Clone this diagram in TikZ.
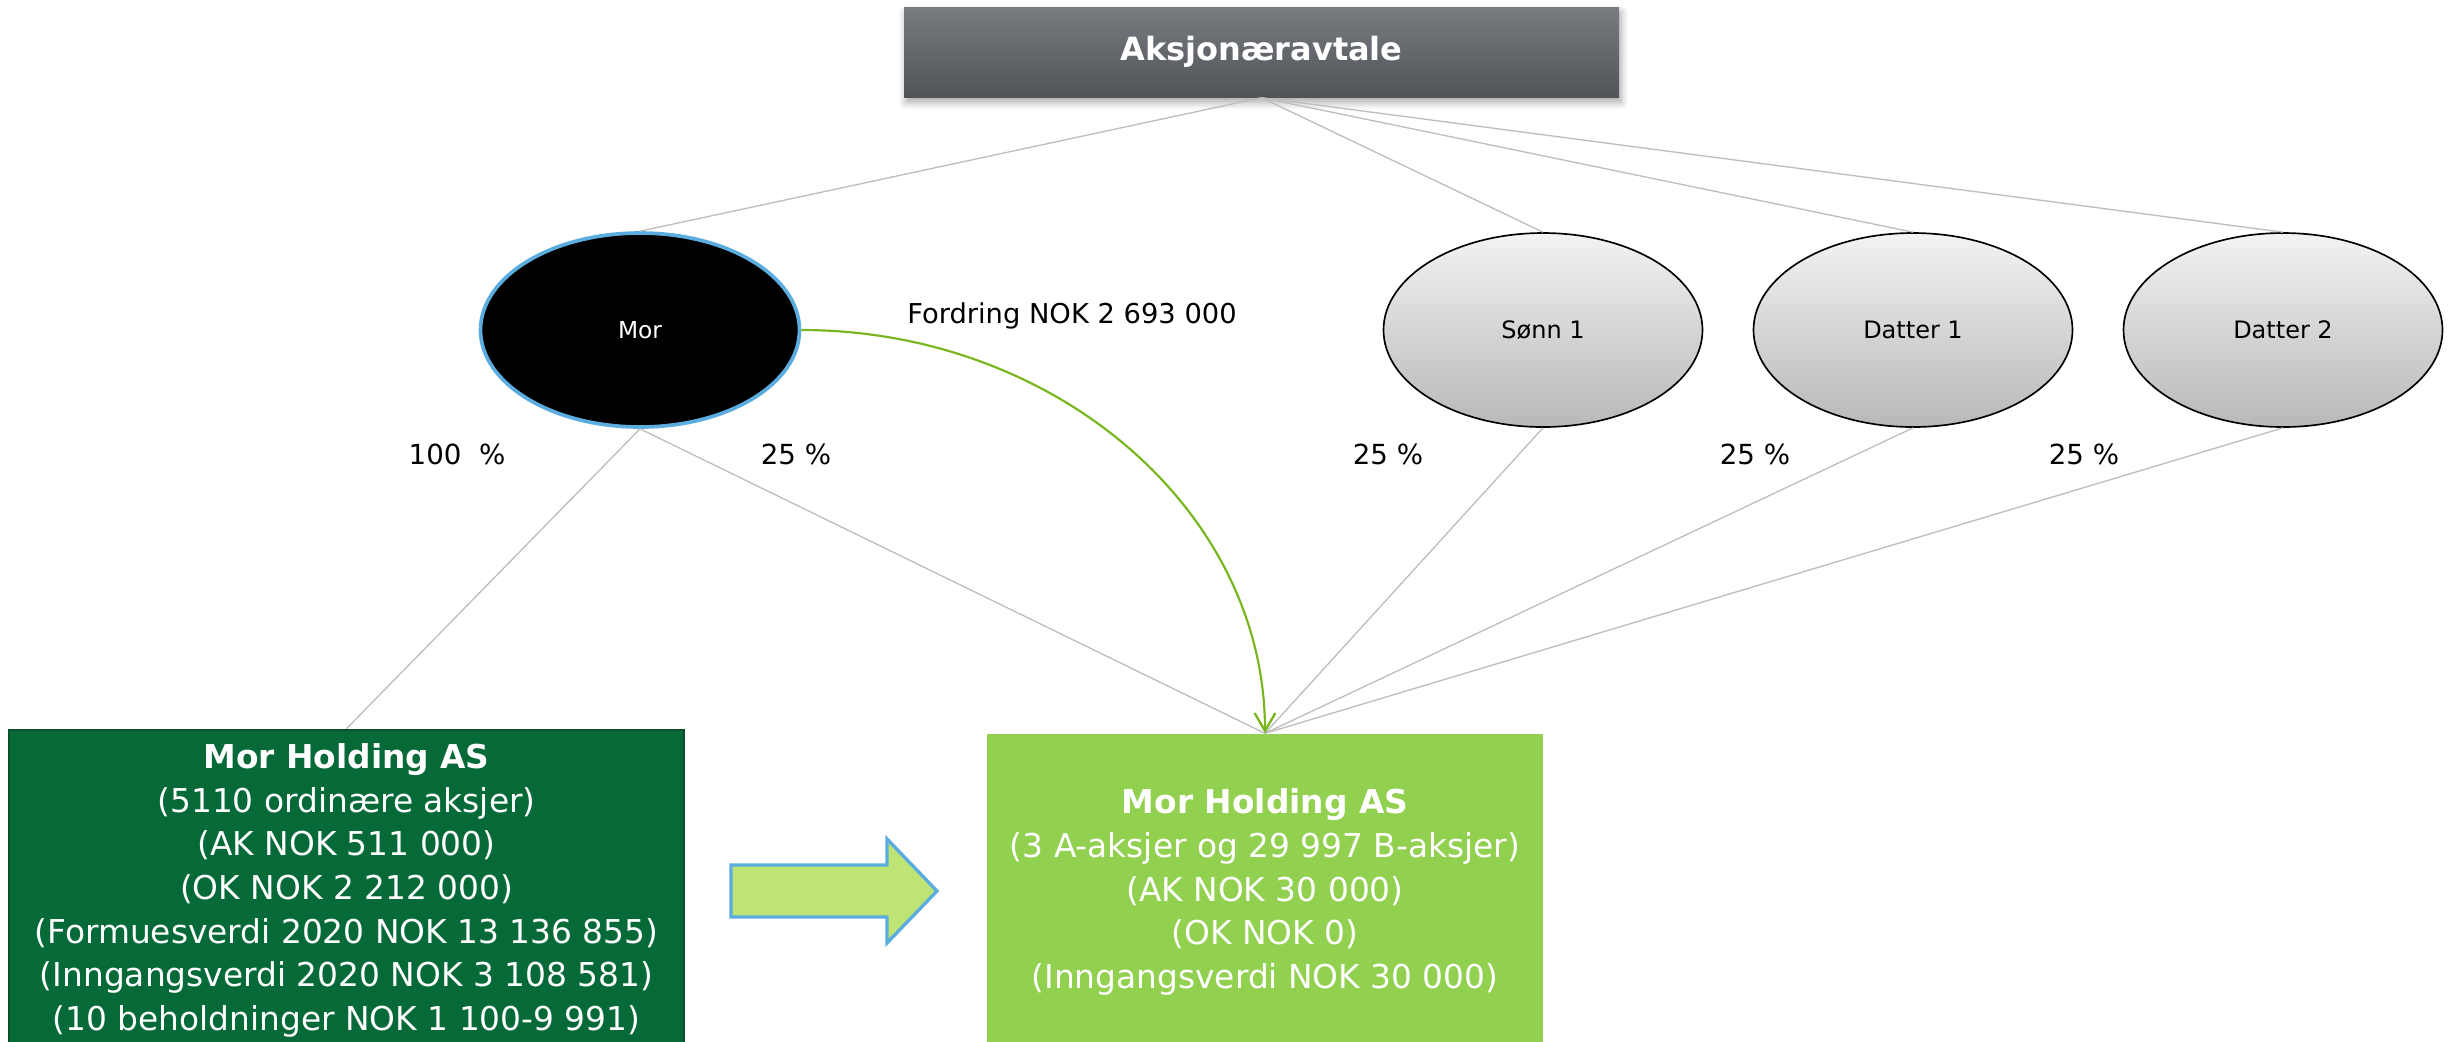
\documentclass[tikz,border=0pt]{standalone}
\usepackage{fontspec}
\setmainfont{DejaVu Sans}
\usetikzlibrary{shapes.geometric,arrows.meta,shadows.blur}

\definecolor{hdrTop}{RGB}{120,123,128}
\definecolor{hdrBot}{RGB}{80,84,88}
\definecolor{ovalTop}{RGB}{243,243,243}
\definecolor{ovalBot}{RGB}{184,184,184}
\definecolor{skyBlue}{RGB}{91,173,224}
\definecolor{darkGreen}{RGB}{5,106,55}
\definecolor{darkGreenEdge}{RGB}{12,78,40}
\definecolor{lightGreen}{RGB}{146,208,80}
\definecolor{paleGreen}{RGB}{190,228,117}
\definecolor{linkGray}{RGB}{190,190,190}
\definecolor{claimGreen}{RGB}{120,182,30}

\tikzset{
  header/.style={rectangle, minimum width=214.5pt, minimum height=27pt,
    top color=hdrTop, bottom color=hdrBot, text=white,
    font=\fontsize{9.6pt}{12pt}\selectfont\bfseries,
    blur shadow={shadow xshift=0.6pt, shadow yshift=-1.6pt, shadow blur steps=6, shadow opacity=35}},
  owner/.style={ellipse, minimum width=95.7pt, minimum height=58.2pt, inner sep=0pt,
    top color=ovalTop, bottom color=ovalBot, draw=black, line width=0.5pt,
    font=\fontsize{7.2pt}{9pt}\selectfont},
  mother/.style={ellipse, minimum width=95.7pt, minimum height=58.2pt, inner sep=0pt,
    fill=black, draw=skyBlue, line width=1.1pt, text=white,
    font=\fontsize{7pt}{9pt}\selectfont},
  company/.style={rectangle, align=center, text=white, inner sep=0pt,
    font=\fontsize{9.85pt}{13.1pt}\selectfont},
  share/.style={font=\fontsize{8.3pt}{10pt}\selectfont, inner sep=0pt},
  link/.style={draw=linkGray, line width=0.4pt},
  claim/.style={draw=claimGreen, line width=0.65pt,
    -{Straight Barb[length=5.4pt,width=6.2pt,line width=0.7pt]}}
}

\begin{document}
\begin{tikzpicture}[x=0.3pt,y=-0.3pt]
\useasboundingbox (0,0) rectangle (2453,1041);

% shareholder agreement header
\node[header] (avtale) at (1261.5,52) {Aksjonæravtale};

% shareholders
\node[mother] (mor) at (640,330) {Mor};
\node[owner] (sonn) at (1543,330) {Sønn 1};
\node[owner] (datter1) at (1913,330) {Datter 1};
\node[owner] (datter2) at (2283,330) {Datter 2};

% old and new holding company
\node[company, fill=darkGreen, draw=darkGreenEdge, line width=0.8pt,
      minimum width=202.5pt, minimum height=96.3pt] (gammel) at (346.5,890.5)
  {\textbf{Mor Holding AS}\\(5110 ordinære aksjer)\\(AK NOK 511 000)\\(OK NOK 2 212 000)\\
   (Formuesverdi 2020 NOK 13 136 855)\\(Inngangsverdi 2020 NOK 3 108 581)\\
   (10 beholdninger NOK 1 100-9 991)};
\node[company, fill=lightGreen, minimum width=166.8pt, minimum height=94.8pt] (ny) at (1265,892)
  {\textbf{Mor Holding AS}\\(3 A-aksjer og 29 997 B-aksjer)\\(AK NOK 30 000)\\(OK NOK 0)\\
   (Inngangsverdi NOK 30 000)};

% links from the agreement
\foreach \p in {mor,sonn,datter1,datter2}
  \path[link] (avtale.south) -- (\p.north);

% ownership links
\path[link] (mor.south) -- (gammel.north);
\path[link] (mor.south) -- (ny.north);
\path[link] (sonn.south) -- (ny.north);
\path[link] (datter1.south) -- (ny.north);
\path[link] (datter2.south) -- (ny.north);

% ownership shares
\node[share] (p100) at (457,454) {100~~\%};
\node[share] (pmor) at (796,454) {25 \%};
\node[share] (psonn) at (1388,454) {25 \%};
\node[share] (pd1) at (1755,454) {25 \%};
\node[share] (pd2) at (2084,454) {25 \%};

% claim from Mor to the new company
\draw[claim] (mor.east) .. controls (1056,330) and (1265,511) .. (ny.north);
\node[share, font=\fontsize{8.2pt}{10pt}\selectfont] (fordring) at (1072,316) {Fordring NOK 2 693 000};

% transition arrow
\draw[fill=paleGreen, draw=skyBlue, line width=1pt, line join=miter]
  (731,865) -- (887,865) -- (887,839) -- (937,891) -- (887,943) -- (887,917) -- (731,917) -- cycle;
\end{tikzpicture}
\end{document}
